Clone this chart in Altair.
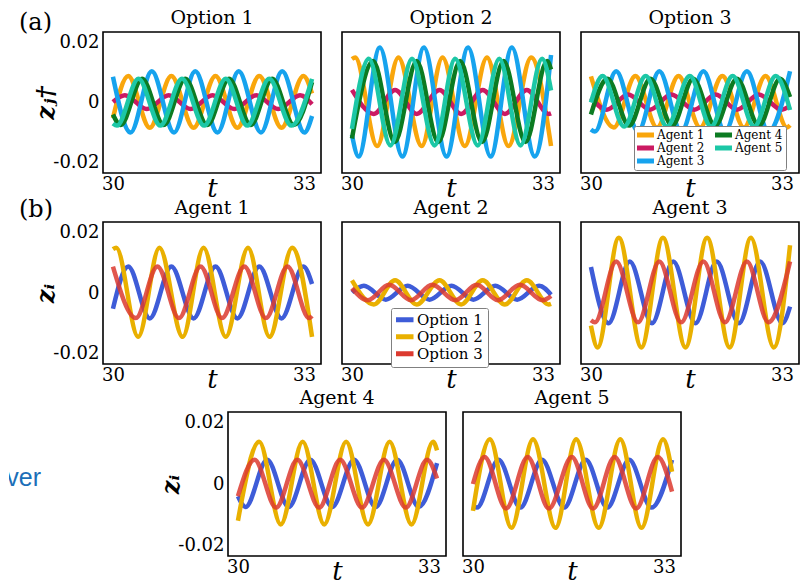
import altair as alt
import pandas as pd

AGENTS = ["Agent 1", "Agent 2", "Agent 3", "Agent 4", "Agent 5"]
OPTIONS = ["Option 1", "Option 2", "Option 3"]
AGENT_COLORS = ["#F9A60C", "#CB1A62", "#16A3EE", "#0C7B22", "#1CC7A6"]
OPTION_COLORS = ["#3E5CD8", "#E9B000", "#DC3A2F"]
X_TICKS = [30, 33]
X_TICK_LABELS = ["30", "33"]
Y_TICKS = [-0.02, 0, 0.02]
Y_TICK_LABELS = ["-0.02", "0", "0.02"]

# extrema (peaks / troughs) and end points of each trace
a1_o1_t = [30.00, 30.23, 30.555, 30.88, 31.215, 31.545, 31.875, 32.205, 32.54, 32.87, 33.00]
a1_o1_z = [-0.0052, 0.0088, -0.0084, 0.0088, -0.0084, 0.0088, -0.0084, 0.0088, -0.0084, 0.0088, 0.0030]
a1_o2_t = [30.00, 30.05, 30.38, 30.70, 31.05, 31.365, 31.70, 32.035, 32.36, 32.70, 33.00]
a1_o2_z = [0.0145, 0.0150, -0.0145, 0.0150, -0.0145, 0.0150, -0.0145, 0.0150, -0.0145, 0.0150, -0.0145]
a1_o3_t = [30.00, 30.345, 30.67, 30.995, 31.32, 31.645, 31.98, 32.305, 32.63, 32.955, 33.00]
a1_o3_z = [0.0087, -0.0083, 0.0088, -0.0083, 0.0088, -0.0083, 0.0088, -0.0083, 0.0088, -0.0083, -0.0076]

a2_o1_t = [30.00, 30.18, 30.51, 30.84, 31.17, 31.50, 31.83, 32.16, 32.49, 32.82, 33.00]
a2_o1_z = [0.0002, 0.0024, -0.0022, 0.0024, -0.0022, 0.0024, -0.0022, 0.0024, -0.0022, 0.0024, -0.0006]
a2_o2_t = [30.00, 30.33, 30.65, 30.975, 31.32, 31.645, 31.97, 32.305, 32.635, 32.965, 33.00]
a2_o2_z = [0.0042, -0.0038, 0.0042, -0.0038, 0.0042, -0.0038, 0.0042, -0.0038, 0.0042, -0.0038, -0.0036]
a2_o3_t = [30.00, 30.24, 30.56, 30.89, 31.21, 31.56, 31.88, 32.20, 32.53, 32.875, 33.00]
a2_o3_z = [0.0016, -0.0024, 0.0027, -0.0024, 0.0027, -0.0024, 0.0027, -0.0024, 0.0027, -0.0024, -0.0010]

a3_o1_t = [30.00, 30.265, 30.585, 30.92, 31.24, 31.575, 31.895, 32.23, 32.55, 32.885, 33.00]
a3_o1_z = [0.0086, -0.0100, 0.0104, -0.0100, 0.0104, -0.0100, 0.0104, -0.0100, 0.0104, -0.0100, -0.0045]
a3_o2_t = [30.00, 30.10, 30.42, 30.76, 31.085, 31.425, 31.75, 32.09, 32.41, 32.755, 33.00]
a3_o2_z = [-0.0108, -0.0180, 0.0183, -0.0180, 0.0183, -0.0180, 0.0183, -0.0180, 0.0183, -0.0180, 0.0158]
a3_o3_t = [30.00, 30.06, 30.38, 30.71, 31.03, 31.36, 31.695, 32.02, 32.35, 32.675, 33.00]
a3_o3_z = [-0.0090, -0.0097, 0.0104, -0.0097, 0.0104, -0.0097, 0.0104, -0.0097, 0.0104, -0.0097, 0.0104]

a4_o1_t = [30.00, 30.115, 30.44, 30.765, 31.09, 31.42, 31.75, 32.075, 32.40, 32.725, 33.00]
a4_o1_z = [-0.0040, -0.0075, 0.0079, -0.0075, 0.0079, -0.0075, 0.0079, -0.0075, 0.0079, -0.0075, 0.0068]
a4_o2_t = [30.00, 30.32, 30.645, 30.975, 31.30, 31.63, 31.96, 32.285, 32.615, 32.94, 33.00]
a4_o2_z = [-0.0120, 0.0138, -0.0132, 0.0138, -0.0132, 0.0138, -0.0132, 0.0138, -0.0132, 0.0138, 0.0110]
a4_o3_t = [30.00, 30.25, 30.575, 30.895, 31.225, 31.54, 31.87, 32.20, 32.53, 32.85, 33.00]
a4_o3_z = [-0.0040, 0.0079, -0.0077, 0.0079, -0.0077, 0.0079, -0.0077, 0.0079, -0.0077, 0.0079, 0.0018]

a5_o1_t = [30.00, 30.06, 30.385, 30.715, 31.04, 31.375, 31.70, 32.025, 32.355, 32.69, 33.00]
a5_o1_z = [-0.0070, -0.0077, 0.0079, -0.0077, 0.0079, -0.0077, 0.0079, -0.0077, 0.0079, -0.0077, 0.0079]
a5_o2_t = [30.00, 30.255, 30.58, 30.905, 31.245, 31.555, 31.895, 32.22, 32.54, 32.865, 33.00]
a5_o2_z = [-0.0088, 0.0146, -0.0143, 0.0146, -0.0143, 0.0146, -0.0143, 0.0146, -0.0143, 0.0146, 0.0040]
a5_o3_t = [30.00, 30.175, 30.50, 30.825, 31.145, 31.49, 31.81, 32.135, 32.46, 32.785, 33.00]
a5_o3_z = [0.0000, 0.0088, -0.0080, 0.0088, -0.0080, 0.0088, -0.0080, 0.0088, -0.0080, 0.0088, -0.0025]

SERIES = {
    ("Agent 1", "Option 1"): (a1_o1_t, a1_o1_z),
    ("Agent 1", "Option 2"): (a1_o2_t, a1_o2_z),
    ("Agent 1", "Option 3"): (a1_o3_t, a1_o3_z),
    ("Agent 2", "Option 1"): (a2_o1_t, a2_o1_z),
    ("Agent 2", "Option 2"): (a2_o2_t, a2_o2_z),
    ("Agent 2", "Option 3"): (a2_o3_t, a2_o3_z),
    ("Agent 3", "Option 1"): (a3_o1_t, a3_o1_z),
    ("Agent 3", "Option 2"): (a3_o2_t, a3_o2_z),
    ("Agent 3", "Option 3"): (a3_o3_t, a3_o3_z),
    ("Agent 4", "Option 1"): (a4_o1_t, a4_o1_z),
    ("Agent 4", "Option 2"): (a4_o2_t, a4_o2_z),
    ("Agent 4", "Option 3"): (a4_o3_t, a4_o3_z),
    ("Agent 5", "Option 1"): (a5_o1_t, a5_o1_z),
    ("Agent 5", "Option 2"): (a5_o2_t, a5_o2_z),
    ("Agent 5", "Option 3"): (a5_o3_t, a5_o3_z),
}

records = []
for (ag, op), (ts, zs) in SERIES.items():
    for i, (t, z) in enumerate(zip(ts, zs)):
        records.append({"agent": ag, "option": op, "t": t, "z": z, "i": i})
df = pd.DataFrame(records)

FONT = "DejaVu Serif"
X_DOMAIN = [29.85, 33.135]
Y_DOMAIN = [-0.0235, 0.0235]


def label_expr(vals, labs):
    s = ""
    for v, lab in zip(vals, labs):
        s += f"abs(datum.value - ({v})) < 1e-6 ? '{lab}' : "
    return s + "''"


def panel(data, title, field, domain, colors, width, height, ytitle=None, legend=None, fade=None):
    xaxis = alt.Axis(
        values=X_TICKS, labelExpr=label_expr(X_TICKS, X_TICK_LABELS),
        title="t", titleFont=FONT, titleFontStyle="italic", titleFontSize=26,
        titleFontWeight="normal", titleY=23, titleBaseline="alphabetic",
        labelPadding=2,
        labelOffset={"condition": {"test": "datum.value > 32", "value": -8}, "value": 0},
    )
    if ytitle:
        yaxis = alt.Axis(
            values=Y_TICKS, labelExpr=label_expr(Y_TICKS, Y_TICK_LABELS),
            title=ytitle, titleFont=FONT, titleFontSize=24, titleFontWeight="bold",
            titleFontStyle="italic", titleX=-50, titleY=height / 2, titleAngle=-90,
            titleAlign="center", titleBaseline="alphabetic", labelPadding=4,
        )
    else:
        yaxis = None
    enc = dict(
        x=alt.X("t:Q", scale=alt.Scale(domain=X_DOMAIN, nice=False, zero=False), axis=xaxis),
        y=alt.Y("z:Q", scale=alt.Scale(domain=Y_DOMAIN, nice=False, zero=False), axis=yaxis),
        color=alt.Color(f"{field}:N", scale=alt.Scale(domain=domain, range=colors), legend=legend),
        order="i:Q",
    )
    if fade:
        enc["opacity"] = alt.condition(alt.datum[field] == fade, alt.value(0.85), alt.value(1.0))
    return (
        alt.Chart(data)
        .mark_line(strokeWidth=4.5, interpolate="monotone", strokeCap="butt")
        .encode(**enc)
        .properties(width=width, height=height,
                    title=alt.TitleParams(title, font=FONT, fontSize=19, fontWeight="normal", offset=4))
    )


LINE_SYMBOL = "M-2,0H2"
agent_legend = alt.Legend(
    orient="none", legendX=53, legendY=94, columns=2, title=None,
    symbolType=LINE_SYMBOL, symbolStrokeWidth=5, symbolSize=90,
    labelFont=FONT, labelFontSize=12, labelOffset=5, labelColor="black",
    fillColor="white", strokeColor="#808080", padding=3, rowPadding=1,
    columnPadding=10, cornerRadius=2, clipHeight=12,
)
option_legend = alt.Legend(
    orient="none", legendX=49, legendY=86, title=None,
    symbolType=LINE_SYMBOL, symbolStrokeWidth=5, symbolSize=100,
    labelFont=FONT, labelFontSize=15, labelOffset=6, labelColor="black",
    fillColor="white", strokeColor="#808080", padding=5, rowPadding=1,
    cornerRadius=2, clipHeight=13.5,
)

W = 218
H1, H2, H3 = 141, 142, 144
ROWGAP = 49

# panels (a): one per option, colored by agent
cells = []
for k, op in enumerate(OPTIONS):
    sub = df[df.option == op]
    cells.append(panel(sub, op, "agent", AGENTS, AGENT_COLORS, W, H1,
                       ytitle="zⱼ†" if k == 0 else None,
                       legend=agent_legend if k == 2 else None))


# panels (b): one per agent, colored by option
def agent_panel(ag, h, ytitle=None, legend=None):
    sub = df[df.agent == ag]
    return panel(sub, ag, "option", OPTIONS, OPTION_COLORS, W, h, ytitle=ytitle,
                 legend=legend, fade="Option 3")


cells += [
    agent_panel("Agent 1", H2, ytitle="zᵢ"),
    agent_panel("Agent 2", H2, legend=option_legend),
    agent_panel("Agent 3", H2),
]

grid12 = alt.concat(
    *cells, columns=3, spacing={"row": ROWGAP, "column": 21}, bounds="flush",
).resolve_scale(color="independent")

spacer = (
    alt.Chart(pd.DataFrame({"s": [""]}))
    .mark_text()
    .encode(text="s:N", x=alt.value(0), y=alt.value(0))
    .properties(width=108, height=H3, view=alt.ViewBackground(stroke="transparent"))
)
row3 = alt.hconcat(
    spacer, agent_panel("Agent 4", H3, ytitle="zᵢ"), agent_panel("Agent 5", H3),
    spacing=17, bounds="flush",
).resolve_scale(color="independent")

main = alt.vconcat(grid12, row3, spacing=-5).resolve_scale(color="independent")

# left column with the panel letters and the cut-off slide text
lab_a = alt.Chart(pd.DataFrame({"s": ["(a)"]})).mark_text(
    font=FONT, fontSize=24, align="left", baseline="alphabetic", color="black"
).encode(text="s:N", x=alt.value(10), y=alt.value(-2))
lab_b = alt.Chart(pd.DataFrame({"s": ["(b)"]})).mark_text(
    font=FONT, fontSize=24, align="left", baseline="alphabetic", color="black"
).encode(text="s:N", x=alt.value(10), y=alt.value(185))
lab_ver = alt.Chart(pd.DataFrame({"s": ["ver"]})).mark_text(
    font="Liberation Sans", fontSize=25, align="right", baseline="alphabetic",
    color="#1B6FB8", clip=True
).encode(text="s:N", x=alt.value(32), y=alt.value(454))
leftcol = alt.layer(lab_a, lab_b, lab_ver).properties(
    width=80, height=H1 + H2 + H3 + 2 * ROWGAP, view=alt.ViewBackground(stroke="transparent")
)

chart = (
    alt.hconcat(leftcol, main, spacing=14, bounds="flush")
    .resolve_scale(color="independent")
    .properties(padding=0)
    .configure_view(stroke="black", strokeWidth=1.6)
    .configure_axis(labelFont=FONT, labelFontSize=18, labelColor="black", titleColor="black",
                    ticks=False, domain=False, grid=False)
    .configure_title(color="black")
)

chart.save("out.html", embed_options={"renderer": "svg", "actions": False})
